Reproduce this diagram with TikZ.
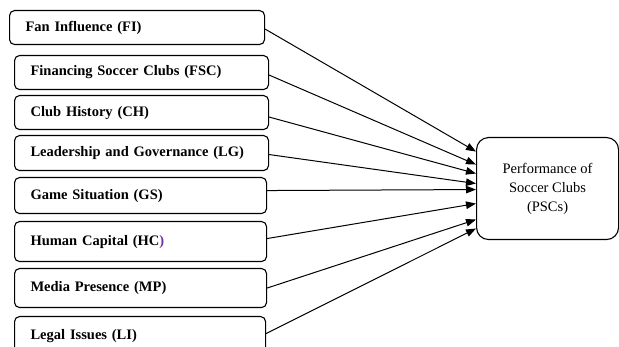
\documentclass[tikz,border=0pt]{standalone}
\usepackage{fontspec}
\setmainfont{Liberation Serif}
\usetikzlibrary{arrows.meta}
\definecolor{hcpurple}{HTML}{7030A0}
\tikzset{
  factor/.style={draw, line width=1.1pt, rounded corners=5pt, anchor=north west,
    text width=222pt, inner xsep=16pt, minimum height=34pt, align=left,
    font=\fontsize{14.5}{17}\selectfont\bfseries},
  outcome/.style={draw, line width=1.1pt, rounded corners=12pt, anchor=north west,
    minimum width=142pt, minimum height=102pt, align=center,
    font=\fontsize{14.5}{19}\selectfont},
  link/.style={line width=1pt, -{Triangle[length=10pt,width=7.5pt]}}
}
\begin{document}
\begin{tikzpicture}[x=1pt, y=-1pt]
    \useasboundingbox (0,0) rectangle (619,347);

    % factores (cajas de la izquierda)
    \node[factor, text width=223pt] (FI) at (9,10) {Fan Influence (FI)};
    \node[factor] (FSC) at (14,55) {Financing Soccer Clubs (FSC)};
    \node[factor] (CH) at (14,95) {Club History (CH)};
    \node[factor, minimum height=35pt] (LG) at (14,135) {Leadership and Governance (LG)};
    \node[factor, text width=220pt, minimum height=36pt] (GS) at (14,177) {Game Situation (GS)};
    \node[factor, text width=220pt, minimum height=40pt] (HC) at (14,221) {Human Capital (HC\textcolor{hcpurple}{)}};
    \node[factor, text width=220pt, minimum height=39pt] (MP) at (14,268) {Media Presence (MP)};
    \node[factor, text width=219pt, minimum height=40pt] (LI) at (14,316) {Legal Issues (LI)};

    % resultado (caja de la derecha)
    \node[outcome] (PSC) at (476,137) {Performance of\\Soccer Clubs\\(PSCs)};

    % flechas hacia PSC
    \foreach \src/\a/\b in {FI/-1.5/37, FSC/-2.5/24, CH/-4.5/15, LG/-1.5/5,
                            GS/5/-1, HC/3/-15, MP/0/-31, LI/3/-40}
        \draw[link] ([yshift=\a pt]\src.east) -- ([yshift=\b pt]PSC.west);

\end{tikzpicture}
\end{document}
